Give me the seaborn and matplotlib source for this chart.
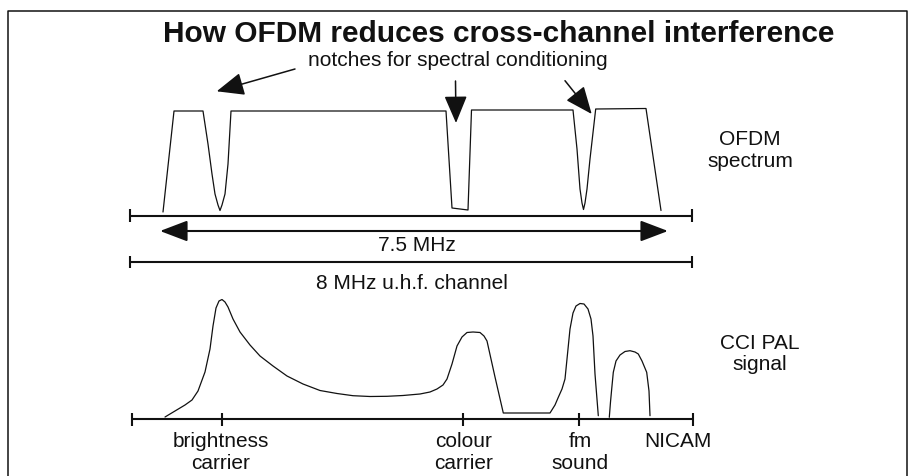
import matplotlib
matplotlib.use("Agg")
import matplotlib.pyplot as plt
import seaborn as sns
import pandas as pd

# ---- data (diagram units: x across the channel, y = drawing height, top-down) ----
ofdm_x = [163, 174, 203, 208, 212, 215, 218, 220, 222, 225, 228, 231,
          446, 452, 468, 471.5, 573, 577, 580, 582, 583.5, 585, 587, 590, 595.7, 646, 661]
ofdm_y = [213, 112, 112, 145, 175, 195, 206, 211.5, 206, 195, 165, 112,
          112, 209, 211, 111, 111, 150, 190, 204, 210.5, 204, 190, 160, 110, 109.5, 211.5]

pal_x = [165, 175, 185, 192, 198, 205, 210, 213, 216, 219, 222, 225, 228, 233, 240, 250,
         260, 273, 287, 303, 320, 337, 353, 370, 387, 403, 420, 430, 437, 443, 447, 452,
         457, 462, 467, 473, 480, 484, 487, 495, 503.3, 550, 555, 558.3, 562, 565, 567,
         570, 573, 576, 580, 584, 588, 591, 593, 595, 598.3]
pal_y = [418, 412, 406, 401, 392, 373, 350, 327, 309, 302, 300.5, 303, 308, 320, 333, 346,
         357, 367, 377, 385, 391.5, 394.5, 396.7, 397.5, 397.3, 396.5, 395, 393, 390, 386, 380, 365,
         347, 338, 333.5, 333, 333.5, 337, 342, 378, 414, 414, 406, 398.3, 390, 380, 360,
         330, 314, 307, 304.5, 305, 310, 320, 337, 375, 416.7]

nicam_x = [609.3, 610.5, 611.7, 613.3, 616, 620, 625, 630, 635, 638.3, 642, 646.7, 649, 650]
nicam_y = [418.3, 403, 390, 373.3, 362, 356, 352.5, 351.7, 353, 355, 362, 373.3, 392, 416.7]

pal_ticks_x = [132, 221.5, 463, 579, 693]
pal_tick_labels = [("brightness", "carrier"), ("colour", "carrier"), ("fm", "sound"), ("NICAM", "")]
pal_label_x = [221, 464, 580, 678]

axis_x = [130, 692]
ofdm_axis_y = 216.5
channel_y = 263
pal_axis_y = 420
span75_x = [160, 668]
span75_y = 232

notch_arrow_from = [(295, 70), (455.5, 82), (565, 81.7)]
notch_arrow_to = [(216.7, 92.3), (456, 124), (591.7, 115)]

title = "How OFDM reduces cross-channel interference"
notch_text = "notches for spectral conditioning"

# ---- style ----
sns.set_style("white")
plt.rcParams["font.family"] = ["Liberation Sans", "DejaVu Sans"]
INK = "#111111"

fig = plt.figure(figsize=(9.13, 4.77), dpi=100)
ax = fig.add_axes([0, 0, 1, 1])
ax.set_xlim(0, 913)
ax.set_ylim(477, 0)
ax.axis("off")

# frame
ax.plot([8, 8, 906.5, 906.5], [477, 12, 12, 477], color=INK, lw=1.1)

# OFDM spectrum
sns.lineplot(data=pd.DataFrame({"x": ofdm_x, "y": ofdm_y}), x="x", y="y", sort=False,
             estimator=None, color=INK, lw=0.9, ax=ax)
# PAL signal
sns.lineplot(data=pd.DataFrame({"x": pal_x, "y": pal_y}), x="x", y="y", sort=False,
             estimator=None, color=INK, lw=0.9, ax=ax)
sns.lineplot(data=pd.DataFrame({"x": nicam_x, "y": nicam_y}), x="x", y="y", sort=False,
             estimator=None, color=INK, lw=0.9, ax=ax)

# horizontal scales with end ticks
for yy, ticks, th in [(ofdm_axis_y, axis_x, 6.5), (channel_y, axis_x, 6), (pal_axis_y, pal_ticks_x, 6.5)]:
    ax.plot([ticks[0], ticks[-1]], [yy, yy], color=INK, lw=1.5, solid_capstyle="butt")
    for tx in ticks:
        ax.plot([tx, tx], [yy - th, yy + th], color=INK, lw=1.5, solid_capstyle="butt")

# 7.5 MHz double arrow
ax.annotate("", xy=(span75_x[1], span75_y), xytext=(span75_x[0], span75_y),
            arrowprops=dict(arrowstyle="<|-|>,head_length=1.0,head_width=0.38",
                            mutation_scale=17, color=INK, lw=1.5, shrinkA=0, shrinkB=0))
ax.text(417, 246, "7.5 MHz", ha="center", va="center", fontsize=15, color=INK)
ax.text(412, 284, "8 MHz u.h.f. channel", ha="center", va="center", fontsize=15, color=INK)

# notch arrows
for (x0, y0), (x1, y1) in zip(notch_arrow_from, notch_arrow_to):
    ax.annotate("", xy=(x1, y1), xytext=(x0, y0),
                arrowprops=dict(arrowstyle="-|>,head_length=1.0,head_width=0.42",
                                mutation_scale=17, color=INK, lw=1.1, shrinkA=0, shrinkB=0))

# texts
ax.text(499, 34, title, ha="center", va="center", fontsize=21.5, fontweight="bold", color=INK)
ax.text(458, 60, notch_text, ha="center", va="center", fontsize=15, color=INK)
ax.text(750, 140, "OFDM", ha="center", va="center", fontsize=15, color=INK)
ax.text(750, 162, "spectrum", ha="center", va="center", fontsize=15, color=INK)
ax.text(760, 344, "CCI PAL", ha="center", va="center", fontsize=15, color=INK)
ax.text(760, 365, "signal", ha="center", va="center", fontsize=15, color=INK)
for lx, (l1, l2) in zip(pal_label_x, pal_tick_labels):
    ax.text(lx, 442, l1, ha="center", va="center", fontsize=15, color=INK)
    if l2:
        ax.text(lx, 464, l2, ha="center", va="center", fontsize=15, color=INK)

fig.savefig("out.png", dpi=100, facecolor="white")
